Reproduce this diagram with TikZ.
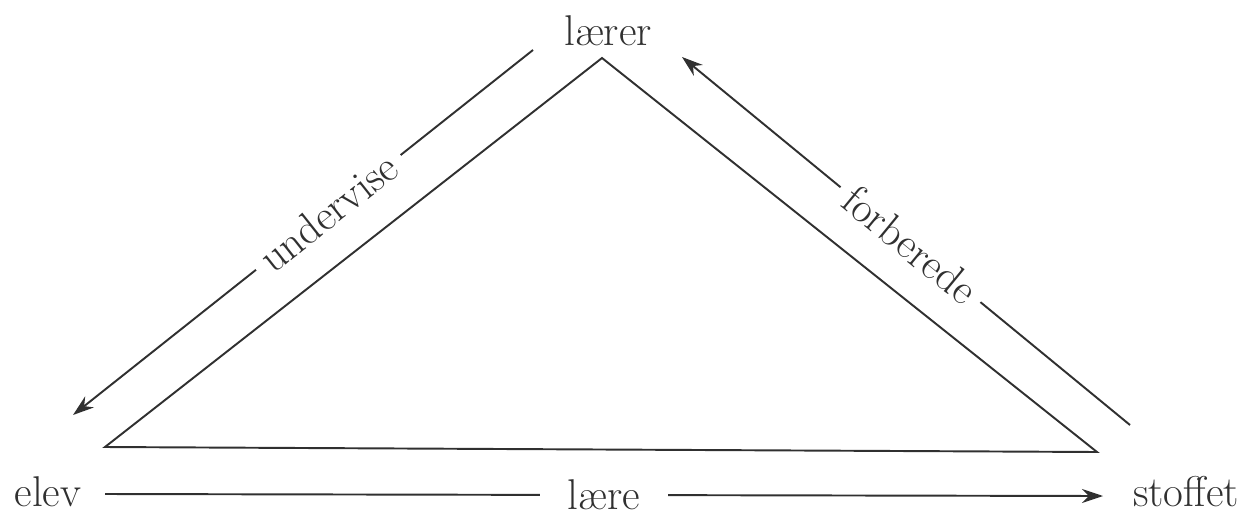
\documentclass[tikz,border=0pt]{standalone}
\usetikzlibrary{arrows.meta}
\definecolor{ink}{HTML}{303030}
\begin{document}
\begin{tikzpicture}[x=0.02cm,y=-0.02cm,
  lbl/.style={text=ink,font=\fontsize{24.5}{28}\selectfont,inner sep=0pt},
  gap/.style={lbl,fill=white,inner ysep=0.5pt},
  edge/.style={draw=ink,line width=1.1pt},
  arr/.style={edge,-{Stealth[length=12pt,width=8pt]}}]
\useasboundingbox (0,0) rectangle (1260,514);
% triangle
\coordinate (A) at (602,58);
\coordinate (B) at (105,447);
\coordinate (C) at (1097,452);
\draw[edge,line join=miter] (A) -- (B) -- (C) -- cycle;
% vertex labels
\node[lbl] (laerer) at (608,31) {lærer};
\node[lbl] (elev) at (48,492) {elev};
\node[lbl] (stoffet) at (1186,492) {stoffet};
% arrows
\coordinate (u1) at (533,50);
\coordinate (u2) at (73,415);
\draw[arr] (u1) -- node[gap,inner xsep=6pt,pos=0.445,sloped] {undervise} (u2);
\coordinate (f1) at (1130,425);
\coordinate (f2) at (682,57);
\draw[arr] (f1) -- node[gap,inner xsep=6pt,pos=0.49,sloped] {forberede} (f2);
\coordinate (l1) at (105,494);
\coordinate (l2) at (1103,496);
\draw[arr] (l1) -- node[gap,inner xsep=16pt,pos=0.5] {lære} (l2);
\end{tikzpicture}
\end{document}
